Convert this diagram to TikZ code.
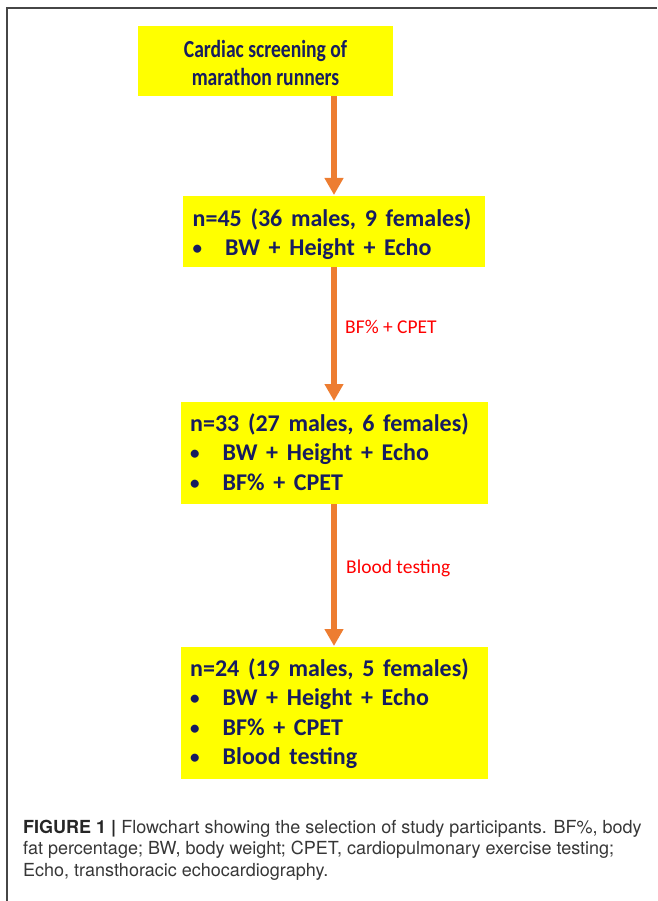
\documentclass[tikz,border=0pt]{standalone}
\usepackage{fontspec}
\setmainfont{Carlito}
\newfontfamily\titlefont{Carlito}[FakeStretch=0.8]
\newfontfamily\boxfont{Carlito}[WordSpace=1.6]
\newfontfamily\capfont{TeX Gyre Heros}
\usetikzlibrary{arrows.meta}
\definecolor{boxyellow}{RGB}{255,255,0}
\definecolor{navytext}{RGB}{22,28,96}
\definecolor{arroworange}{RGB}{237,125,49}
\definecolor{labelred}{RGB}{255,0,0}
\definecolor{framegray}{RGB}{70,70,70}
\definecolor{captext}{RGB}{55,55,55}
\tikzset{
  flowbox/.style={fill=boxyellow, draw=none, anchor=north west, inner sep=0pt},
  boxtext/.style={text=navytext, font=\boxfont\fontsize{24}{29.3}\selectfont\bfseries, anchor=base west, inner sep=0pt, align=left},
  flowarrow/.style={draw=arroworange, line width=5.5pt, -{Triangle[width=18pt,length=17pt]}},
  steplabel/.style={text=labelred, font=\fontsize{19.5}{22}\selectfont, anchor=base west, inner sep=0pt},
  captionstyle/.style={text=captext, font=\capfont\fontsize{18}{21.5}\selectfont, anchor=base west, inner sep=0pt, align=left}
}
\newcommand{\bul}{\makebox[32.5pt][l]{\raisebox{1pt}{\fontsize{19}{19}\selectfont\textbullet}}}
\begin{document}
\begin{tikzpicture}[x=1pt,y=-1pt]
\useasboundingbox (0,0) rectangle (657,901);
% frame
\draw[framegray, line width=1.5pt] (7,901) -- (7,8) -- (657,8);
% boxes
\node[flowbox, minimum width=255pt, minimum height=70pt] (b1) at (138,26) {};
\node[flowbox, minimum width=302pt, minimum height=71pt] (b2) at (183,196) {};
\node[flowbox, minimum width=307pt, minimum height=102pt] (b3) at (181,402) {};
\node[flowbox, minimum width=307pt, minimum height=132pt] (b4) at (181,647) {};
% box texts
\node[boxtext, anchor=base, align=center, font=\titlefont\fontsize{24.5}{28}\selectfont\bfseries] (t1) at (265.5,86) {Cardiac screening of\\marathon runners};
\node[boxtext] (t2) at (192.5,255.5) {n=45 (36 males, 9 females)\\\bul BW + Height + Echo};
\node[boxtext] (t3) at (190,490) {n=33 (27 males, 6 females)\\\bul BW + Height + Echo\\\bul BF\% + CPET};
\node[boxtext] (t4) at (190,764.5) {n=24 (19 males, 5 females)\\\bul BW + Height + Echo\\\bul BF\% + CPET\\\bul Blood testing};
% arrows
\draw[flowarrow] (b1.south -| 334,0) -- (334,195) coordinate (a1);
\draw[flowarrow] (b2.south -| 334,0) -- (334,401) coordinate (a2);
\draw[flowarrow] (b3.south -| 334,0) -- (334,646) coordinate (a3);
% labels
\node[steplabel] (l1) at (345,333) {BF\% + CPET};
\node[steplabel] (l2) at (346,573) {Blood testing};
% caption
\node[captionstyle] (cap) at (23,876) {{\bfseries\color{black!85}FIGURE 1 |} Flowchart showing the selection of study participants. BF\%, body\\fat percentage; BW, body weight; CPET, cardiopulmonary exercise testing;\\Echo, transthoracic echocardiography.};
\end{tikzpicture}
\end{document}
